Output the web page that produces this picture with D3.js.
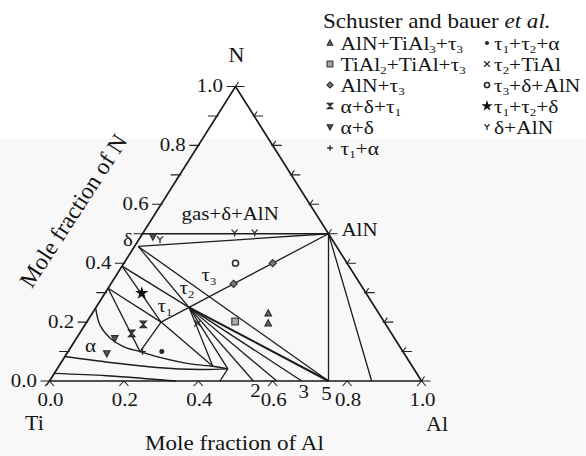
<!DOCTYPE html>
<html>
<head>
<meta charset="utf-8">
<script src="https://cdn.jsdelivr.net/npm/d3@7"></script>
<style>
  html, body { margin: 0; padding: 0; background: #fff; }
  svg { display: block; }
  text, tspan { font-family: "Liberation Serif", "DejaVu Serif", serif; fill: #151515; }
</style>
</head>
<body>
<svg id="chart" width="586" height="456"></svg>
<script>
// ---- compositions are given as [x(Al), x(N)] mole fractions ----

// invariant points and phase-boundary ends
const nodeList = [
  ["AlN", 0.5, 0.5],
  ["dN50", 0, 0.5],
  ["dTop", 0.01, 0.457],
  ["d39", 0, 0.39],
  ["d315", 0, 0.315],
  ["tau1", 0.2, 0.2],
  ["tau2", 0.25, 0.25],
  ["tau3", 0.284, 0.284],
  ["TiAl3", 0.75, 0],
  ["Al87", 0.866, 0],
  ["TiAl2", 0.678, 0],
  ["Al61", 0.611, 0],
  ["TiAl", 0.548, 0],
  ["Al46", 0.458, 0],
  ["c1", 0.1935, 0.0997],
  ["cA", 0.414, 0.05],
  ["c2", 0.459, 0.041]
];

// straight tie-lines / boundaries between the points above
const tieLines = [
  ["dN50", "AlN"], ["dTop", "AlN"], ["dTop", "TiAl3"], ["tau1", "AlN"],
  ["AlN", "TiAl3"], ["AlN", "Al87"],
  ["dTop", "tau2"], ["d39", "tau2"], ["d39", "tau1"], ["d315", "tau1"],
  ["d315", "c1"], ["tau1", "c1"], ["tau1", "cA"],
  ["tau2", "cA"], ["tau2", "c2"], ["c2", "Al46"],
  ["tau2", "TiAl"], ["tau2", "Al61"], ["tau2", "TiAl2"], ["tau2", "TiAl3"]
];

// curved boundaries
const alphaBoundary = [[0, 0.248], [0.0406, 0.19], [0.0895, 0.146], [0.14, 0.117],
  [0.1935, 0.0997], [0.247, 0.0827], [0.349, 0.058], [0.414, 0.05], [0.459, 0.041]];
const alphaLowBoundary = [[0, 0.083], [0.131, 0.063], [0.265, 0.046], [0.385, 0.039], [0.459, 0.041]];
const alpha2Boundary = [[0, 0.026], [0.145, 0.018], [0.30, 0.004], [0.34, 0]];

// experimental points (Schuster and Bauer)
const ptsAlnTial3Tau3 = [[0.473, 0.230], [0.49, 0.196]];
const ptsTial2TialTau3 = [[0.398, 0.202]];
const ptsAlnTau3 = [[0.33, 0.33], [0.40, 0.40]];
const ptsAlphaDeltaTau1 = [[0.156, 0.192], [0.14, 0.162]];
const ptsAlphaDelta = [[0.107, 0.094], [0.103, 0.145], [0.033, 0.49]];
const ptsTau1Alpha = [[0.20, 0.10]];
const ptsTau1Tau2Alpha = [[0.252, 0.10]];
const ptsTau2Tial = [[0.30, 0.196]];
const ptsTau3DeltaAln = [[0.30, 0.40]];
const ptsTau1Tau2Delta = [[0.099, 0.298]];
const ptsDeltaAln = [[0.246, 0.503], [0.30, 0.503], [0.057, 0.48]];

// legend entries: [symbol, label]  ("_n" = subscript)
const legendLeft = [
  ["triUp", "AlN+TiAl_3+τ_3"],
  ["square", "TiAl_2+TiAl+τ_3"],
  ["diamond", "AlN+τ_3"],
  ["hourglass", "α+δ+τ_1"],
  ["triDown", "α+δ"],
  ["plus", "τ_1+α"]
];
const legendRight = [
  ["dot", "τ_1+τ_2+α"],
  ["cross", "τ_2+TiAl"],
  ["ring", "τ_3+δ+AlN"],
  ["star", "τ_1+τ_2+δ"],
  ["wye", "δ+AlN"]
];

// axis ticks
const sideTicks = d3.range(0, 11).map(i => i / 10);
const nLabels = ["0.0", "0.2", "0.4", "0.6", "0.8", "1.0"];
const alLabels = ["0.0", "0.2", "0.4", "0.6", "0.8", "1.0"];
const bottomTicks = [0, 0.2, 0.4, 0.6, 0.8, 1.0];

// phase labels inside the section
const phaseLabels = [
  ["gas+δ+AlN", 181.5, 220],
  ["δ", 123, 246],
  ["α", 85, 352],
  ["τ_1", 157.5, 312],
  ["τ_2", 179.5, 294],
  ["τ_3", 201.5, 281]
];
const compoundMarks = [["2", 0.548, 397], ["3", 0.678, 398], ["5", 0.739, 400]];

// ---------------------------------------------------------------
const svg = d3.select("#chart");
const SX = 1.1;
const FONT = "'Liberation Serif', 'DejaVu Serif', serif";

// faint paper tone on the lower part of the sheet
svg.append("rect").attr("x", 0).attr("y", 0).attr("width", 586).attr("height", 456).attr("fill", "#fff");
svg.append("rect").attr("x", 0).attr("y", 139).attr("width", 586).attr("height", 317).attr("fill", "#f8f8f8");

const xs = d3.scaleLinear().domain([0, 1]).range([49.5, 421.5]);
const ys = d3.scaleLinear().domain([0, 1]).range([381, 86.5]);
const proj = ([a, n]) => [xs(a + n / 2), ys(n)];
const nodeMap = new Map(nodeList.map(d => [d[0], [d[1], d[2]]]));

function rich(parent, x, y, str, o = {}) {
  const size = o.size || 19;
  const sub = o.sub || 0.22;
  const t = parent.append("text")
    .attr("transform", `translate(${x},${y})` + (o.rotate ? ` rotate(${o.rotate})` : "") + ` scale(${o.sx || SX},1)`)
    .attr("font-family", FONT)
    .attr("font-size", size)
    .attr("text-anchor", o.anchor || "start");
  const tokens = str.split(/(_[0-9]|\*[^*]+\*)/).filter(s => s.length);
  let shifted = false;
  tokens.forEach(tok => {
    const span = t.append("tspan").attr("font-family", FONT);
    if (tok[0] === "_") {
      span.text(tok.slice(1)).attr("font-size", size * 0.6).attr("dy", size * sub);
      shifted = true;
    } else {
      if (shifted) { span.attr("dy", -size * sub); shifted = false; }
      if (tok[0] === "*") span.text(tok.slice(1, -1)).attr("font-style", "italic");
      else span.text(tok);
    }
  });
  return t;
}

function marker(g, type, x, y, s = 3) {
  const ink = "#2a2a2a";
  const p = g.append("path").attr("transform", `translate(${x},${y})`);
  switch (type) {
    case "triUp":
      p.attr("d", `M0,${-s * 1.1}L${s},${s * 0.8}L${-s},${s * 0.8}Z`).attr("fill", "#666").attr("stroke", ink).attr("stroke-width", 1.1); break;
    case "triDown":
      p.attr("d", `M0,${s * 1.1}L${s},${-s * 0.8}L${-s},${-s * 0.8}Z`).attr("fill", "#555").attr("stroke", ink).attr("stroke-width", 1.1); break;
    case "square":
      p.attr("d", `M${-s},${-s}H${s}V${s}H${-s}Z`).attr("fill", "#aaa").attr("stroke", "#444").attr("stroke-width", 1.3); break;
    case "diamond":
      p.attr("d", `M0,${-s * 1.1}L${s * 1.1},0L0,${s * 1.1}L${-s * 1.1},0Z`).attr("fill", "#777").attr("stroke", ink).attr("stroke-width", 1.1); break;
    case "hourglass":
      p.attr("d", `M${-s},${-s}H${s}L${-s},${s}H${s}Z`).attr("fill", "#444").attr("stroke", ink).attr("stroke-width", 1.1); break;
    case "plus":
      p.attr("d", `M${-s},0H${s}M0,${-s}V${s}`).attr("fill", "none").attr("stroke", ink).attr("stroke-width", 1.3); break;
    case "dot":
      p.attr("d", d3.symbol(d3.symbolCircle, s * s * 1.8)()).attr("fill", ink); break;
    case "cross":
      p.attr("d", `M${-s},${-s}L${s},${s}M${s},${-s}L${-s},${s}`).attr("fill", "none").attr("stroke", ink).attr("stroke-width", 1.3); break;
    case "ring":
      p.attr("d", d3.symbol(d3.symbolCircle, s * s * 2.6)()).attr("fill", "#fff").attr("stroke", ink).attr("stroke-width", 1.6); break;
    case "star":
      p.attr("d", d3.symbol(d3.symbolStar, s * s * 5)()).attr("fill", "#111"); break;
    case "wye":
      p.attr("d", `M0,0L${-s * 0.9},${-s}M0,0L${s * 0.9},${-s}M0,0V${s * 1.1}`).attr("fill", "none").attr("stroke", ink).attr("stroke-width", 1.3); break;
  }
}

const plot = svg.append("g");
const line = d3.line().x(d => proj(d)[0]).y(d => proj(d)[1]);
const curve = d3.line().x(d => proj(d)[0]).y(d => proj(d)[1]).curve(d3.curveCatmullRom.alpha(0.5));

// tie-lines
plot.append("g").selectAll("line").data(tieLines).join("line")
  .attr("x1", d => proj(nodeMap.get(d[0]))[0]).attr("y1", d => proj(nodeMap.get(d[0]))[1])
  .attr("x2", d => proj(nodeMap.get(d[1]))[0]).attr("y2", d => proj(nodeMap.get(d[1]))[1])
  .attr("stroke", "#1c1c1c").attr("stroke-width", d => (d[0] === "tau2" && d[1] === "TiAl3") ? 2 : 1.3);

// curved phase boundaries
[alphaBoundary, alphaLowBoundary, alpha2Boundary].forEach(pts => {
  plot.append("path").attr("d", curve(pts)).attr("fill", "none")
    .attr("stroke", "#1c1c1c").attr("stroke-width", 1.4);
});

// triangle frame
plot.append("path").attr("d", line([[0, 0], [1, 0], [0, 1]]) + "Z")
  .attr("fill", "none").attr("stroke", "#1a1a1a").attr("stroke-width", 1.7).attr("stroke-linejoin", "miter");

// ticks
const tickG = plot.append("g").attr("stroke", "#222").attr("stroke-width", 1.1).attr("fill", "none");
sideTicks.forEach(n => {
  const [x, y] = proj([0, n]);
  tickG.append("path").attr("d", `M${x - 9},${y}H${x + 1.5}M${x},${y}L${x - 3},${y + 4.5}`);
  const [xr, yr] = proj([1 - n, n]);
  tickG.append("path").attr("d", `M${xr - 1.5},${yr}H${xr + 9}M${xr},${yr}L${xr + 3},${yr - 4.5}`);
});
bottomTicks.forEach(a => {
  const [x, y] = proj([a, 0]);
  tickG.append("path").attr("d", `M${x - 4.5},${y + 5}L${x},${y}L${x + 4.5},${y + 5}`);
});

// markers on the section
const markerSets = [
  ["triUp", ptsAlnTial3Tau3], ["square", ptsTial2TialTau3], ["diamond", ptsAlnTau3],
  ["hourglass", ptsAlphaDeltaTau1], ["triDown", ptsAlphaDelta], ["plus", ptsTau1Alpha],
  ["dot", ptsTau1Tau2Alpha], ["cross", ptsTau2Tial], ["ring", ptsTau3DeltaAln],
  ["star", ptsTau1Tau2Delta], ["wye", ptsDeltaAln]
];
const mG = plot.append("g");
markerSets.forEach(([type, pts]) => pts.forEach(p => {
  const [x, y] = proj(p);
  marker(mG, type, x, y, 3.3);
}));

// axis numbers
const lab = svg.append("g");
nLabels.forEach(s => {
  const [x, y] = proj([0, +s]);
  rich(lab, x - 12.5, y + 5.5, s, { size: 19, anchor: "end" });
});
alLabels.forEach(s => {
  const [x] = proj([+s, 0]);
  rich(lab, x + 1, 405.5, s, { size: 19, anchor: "middle" });
});
compoundMarks.forEach(([s, a, y]) => {
  rich(lab, proj([a, 0])[0] + 2, y, s, { size: 19, anchor: "middle" });
});

// corner and axis names
rich(lab, 236.5, 61.5, "N", { size: 20, anchor: "middle" });
rich(lab, 25, 430, "Ti", { size: 20 });
rich(lab, 426, 431, "Al", { size: 20 });
rich(lab, 341.5, 235.5, "AlN", { size: 19 });
rich(lab, 145, 450, "Mole fraction of Al", { size: 21 });
rich(lab, 80, 215, "Mole fraction of N", { size: 23.5, anchor: "middle", rotate: -57, sx: 1.0 });

phaseLabels.forEach(([s, x, y]) => rich(lab, x, y, s, { size: 19 }));

// legend
const leg = svg.append("g");
rich(leg, 323, 28, "Schuster and bauer *et al.*", { size: 21 });
const rowBase = [49.5, 70.5, 91.5, 112.5, 133.5, 154.5];
legendLeft.forEach(([type, s], i) => {
  marker(leg, type, 330, rowBase[i] - 6.5, 2.8);
  rich(leg, 340.5, rowBase[i], s, { size: 19, sx: 1.13, sub: 0.17 });
});
legendRight.forEach(([type, s], i) => {
  marker(leg, type, 487, rowBase[i] - 6.5, 2.8);
  rich(leg, 494, rowBase[i], s, { size: 19, sx: 1.13, sub: 0.17 });
});
</script>
</body>
</html>
